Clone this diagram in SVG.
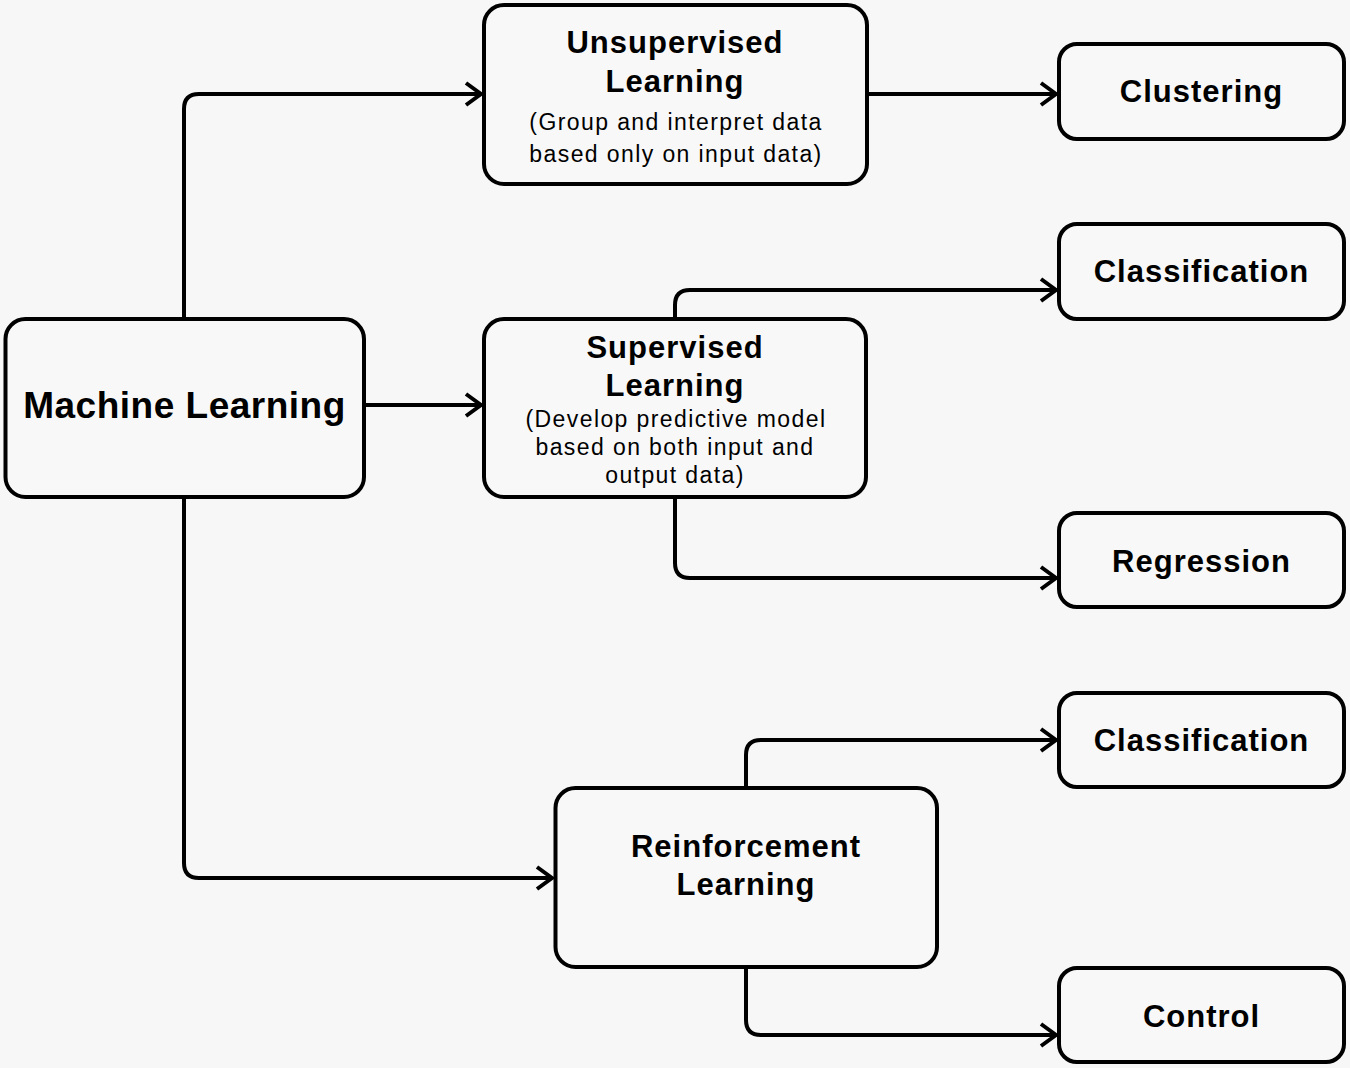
<svg xmlns="http://www.w3.org/2000/svg" width="1350" height="1068" viewBox="0 0 1350 1068">
<defs>
<marker id="arr" markerUnits="userSpaceOnUse" markerWidth="36" markerHeight="36" viewBox="-24 -18 36 36" refX="0" refY="0" orient="auto">
<path d="M -15 -11 L 0 0 L -15 11" fill="none" stroke="#000" stroke-width="4" stroke-linejoin="miter"/>
</marker>
<style>
.box{fill:#f8f8f8;stroke:#000;stroke-width:4}
.t{font-family:"Liberation Sans",Arial,sans-serif;font-weight:bold;font-size:31px;letter-spacing:1px;text-anchor:middle;fill:#000}
.s{font-family:"Liberation Sans",Arial,sans-serif;font-size:23px;letter-spacing:1.4px;text-anchor:middle;fill:#000}
.c{fill:none;stroke:#000;stroke-width:4;marker-end:url(#arr)}
</style>
</defs>
<rect width="1350" height="1068" fill="#f7f7f7"/>
<g id="connectors">
<path class="c" d="M184 319 V109 Q184 94 199 94 H481"/>
<path class="c" d="M364 405 H481"/>
<path class="c" d="M184 497 V863 Q184 878 199 878 H552"/>
<path class="c" d="M867 94 H1056"/>
<path class="c" d="M675 319 V305 Q675 290 690 290 H1056"/>
<path class="c" d="M675 497 V563 Q675 578 690 578 H1056"/>
<path class="c" d="M746 788 V755 Q746 740 761 740 H1056"/>
<path class="c" d="M746 967 V1020 Q746 1035 761 1035 H1056"/>
</g>
<g id="machine-learning">
<rect class="box" x="5.5" y="319" width="358.5" height="178" rx="20"/>
<text class="t" x="184.5" y="418" style="font-size:37px;letter-spacing:0.5px">Machine Learning</text>
</g>
<g id="unsupervised">
<rect class="box" x="484" y="5" width="383" height="179" rx="20"/>
<text class="t" x="675" y="53">Unsupervised</text>
<text class="t" x="675" y="92">Learning</text>
<text class="s" x="676" y="130">(Group and interpret data</text>
<text class="s" x="676" y="162">based only on input data)</text>
</g>
<g id="supervised">
<rect class="box" x="484" y="319" width="382" height="178" rx="20"/>
<text class="t" x="675" y="358">Supervised</text>
<text class="t" x="675" y="396">Learning</text>
<text class="s" x="676" y="427">(Develop predictive model</text>
<text class="s" x="675" y="455">based on both input and</text>
<text class="s" x="675" y="483">output data)</text>
</g>
<g id="reinforcement">
<rect class="box" x="555.5" y="788" width="381.5" height="179" rx="20"/>
<text class="t" x="746" y="857">Reinforcement</text>
<text class="t" x="746" y="895">Learning</text>
</g>
<g id="clustering">
<rect class="box" x="1059" y="44" width="285" height="95" rx="18"/>
<text class="t" x="1201.5" y="102">Clustering</text>
</g>
<g id="classification-1">
<rect class="box" x="1059" y="224" width="285" height="95" rx="18"/>
<text class="t" x="1201.5" y="282">Classification</text>
</g>
<g id="regression">
<rect class="box" x="1059" y="513" width="285" height="94" rx="18"/>
<text class="t" x="1201.5" y="572">Regression</text>
</g>
<g id="classification-2">
<rect class="box" x="1059" y="693" width="285" height="94" rx="18"/>
<text class="t" x="1201.5" y="751">Classification</text>
</g>
<g id="control">
<rect class="box" x="1059" y="968" width="285" height="94" rx="18"/>
<text class="t" x="1201.5" y="1027">Control</text>
</g>
</svg>
